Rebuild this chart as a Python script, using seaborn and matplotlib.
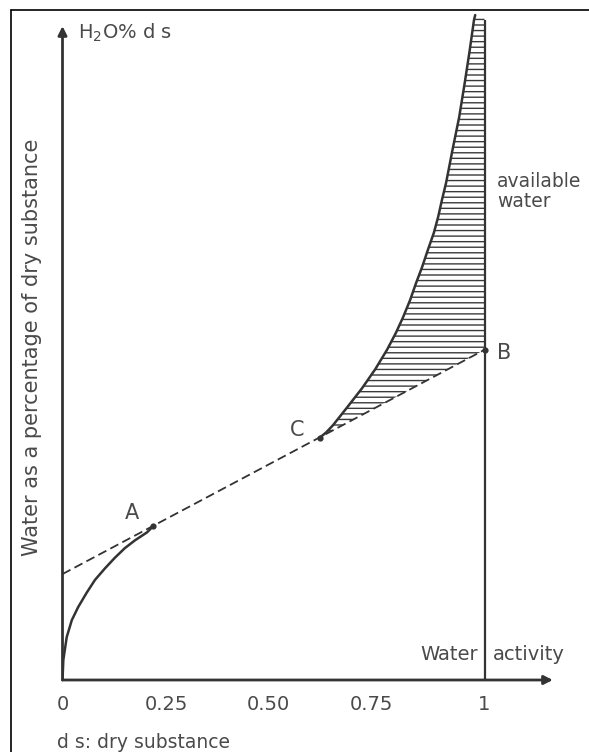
import numpy as np
import pandas as pd
import matplotlib
matplotlib.use("Agg")
import matplotlib.pyplot as plt
from matplotlib.lines import Line2D
import seaborn as sns

# sorption isotherm, lower part (origin up to A)
low_x = [0, 0.002, 0.010, 0.022, 0.037, 0.057, 0.077, 0.101, 0.124,
         0.148, 0.172, 0.200, 0.214]
low_y = [0, 3.1, 6.6, 9.2, 11.2, 13.4, 15.4, 17.2, 18.8,
         20.3, 21.5, 22.7, 23.6]

# sorption isotherm, upper part (C up to the top)
up_x = [0.610, 0.625, 0.641, 0.674, 0.710, 0.741, 0.769, 0.790, 0.807,
        0.824, 0.838, 0.852, 0.866, 0.880, 0.890, 0.899, 0.909, 0.924,
        0.940, 0.953, 0.965, 0.975, 0.978]
up_y = [37.3, 38.1, 39.2, 41.9, 44.9, 47.8, 50.8, 53.4, 55.8,
        58.5, 61.1, 63.5, 66.2, 68.8, 71.2, 73.8, 76.5, 81.5,
        86.6, 91.8, 96.9, 101.5, 102.3]

# dashed tangent from the y axis to B
tan_x = [0, 1]
tan_y = [16.3, 50.8]

# labelled points
pt_names = ["A", "C", "B"]
pt_x = [0.214, 0.610, 1.0]
pt_y = [23.7, 37.3, 50.8]

tick_pos = [0, 0.247, 0.489, 0.732, 1]
tick_labels = ["0", "0.25", "0.50", "0.75", "1"]

y_top = 102.3

sns.set_theme(style="white")
plt.rcParams["font.family"] = ["DejaVu Sans"]

W, H = 589, 752
fig = plt.figure(figsize=(W / 100, H / 100), dpi=100)
# x: 0 -> 62.5px, 1 -> 484.5px ; y: 0 -> 680px, 6.5 px per unit
ax = fig.add_axes([62.5 / W, (H - 680) / H, 1.2 * 422 / W, 104 * 6.5 / H])
ax.set_xlim(0, 1.2)
ax.set_ylim(0, 104)
sns.despine(ax=ax, left=True, bottom=True)
ax.patch.set_alpha(0)

ink = "#333333"
txt = "#4a4a4a"

# hatched "available water" region
poly_x = up_x + [1, 1]
poly_y = up_y + [y_top, tan_y[1]]
ax.fill(poly_x, poly_y, facecolor="none", edgecolor="#3a3a3a",
        hatch="---", linewidth=0)

curve = pd.DataFrame({"x": low_x, "y": low_y})
sns.lineplot(data=curve, x="x", y="y", ax=ax, color=ink, lw=1.8)
curve_up = pd.DataFrame({"x": up_x, "y": up_y})
sns.lineplot(data=curve_up, x="x", y="y", ax=ax, color=ink, lw=1.8)
sns.lineplot(x=tan_x, y=tan_y, ax=ax, color=ink, lw=1.3,
             linestyle=(0, (5, 2.5)))

ax.vlines(1, 0, y_top - 0.8, color=ink, lw=1.6)
ax.scatter(pt_x, pt_y, s=12, color=ink, zorder=5)

# axes with arrows
arrow = dict(arrowstyle="-|>", lw=2, color=ink, shrinkA=0, shrinkB=0,
             mutation_scale=13)
ax.annotate("", xy=(1.162, 0), xytext=(0, 0), arrowprops=arrow,
            annotation_clip=False)
ax.annotate("", xy=(0, 100.6), xytext=(0, 0), arrowprops=arrow,
            annotation_clip=False)

ax.set_xticks(tick_pos, tick_labels)
ax.set_yticks([])
ax.tick_params(axis="x", length=0, pad=11, labelsize=14, labelcolor=txt)
ax.set_xlabel("")
ax.set_ylabel("")

fs = 15
ax.text(0.165, 25.7, "A", ha="center", va="center", fontsize=fs, color=txt)
ax.text(0.556, 38.5, "C", ha="center", va="center", fontsize=fs, color=txt)
ax.text(1.03, 50.3, "B", ha="left", va="center", fontsize=fs, color=txt)
ax.text(1.03, 75.1, "available\nwater", ha="left", va="center",
        fontsize=13.5, color=txt, linespacing=1.05)
ax.text(0.985, 3.9, "Water", ha="right", va="center", fontsize=14, color=txt)
ax.text(1.02, 3.9, "activity", ha="left", va="center", fontsize=14, color=txt)
ax.text(0.037, 99.6, r"H$_2$O% d s", ha="left", va="center",
        fontsize=14, color=txt)

fig.text(32 / W, 1 - 347 / H, "Water as a percentage of dry substance",
         rotation=90, ha="center", va="center", fontsize=15, color=txt)
fig.text(57 / W, 1 - 743 / H, "d s: dry substance", ha="left", va="center",
         fontsize=13.5, color=txt)

# scan frame (left and top edges)
fig.add_artist(Line2D([10.5 / W, 10.5 / W], [0, 1 - 9.5 / H],
                      transform=fig.transFigure, color="black", lw=1.2))
fig.add_artist(Line2D([10.5 / W, 1], [1 - 9.5 / H, 1 - 9.5 / H],
                      transform=fig.transFigure, color="black", lw=1.2))

fig.savefig("out.png", dpi=100)
